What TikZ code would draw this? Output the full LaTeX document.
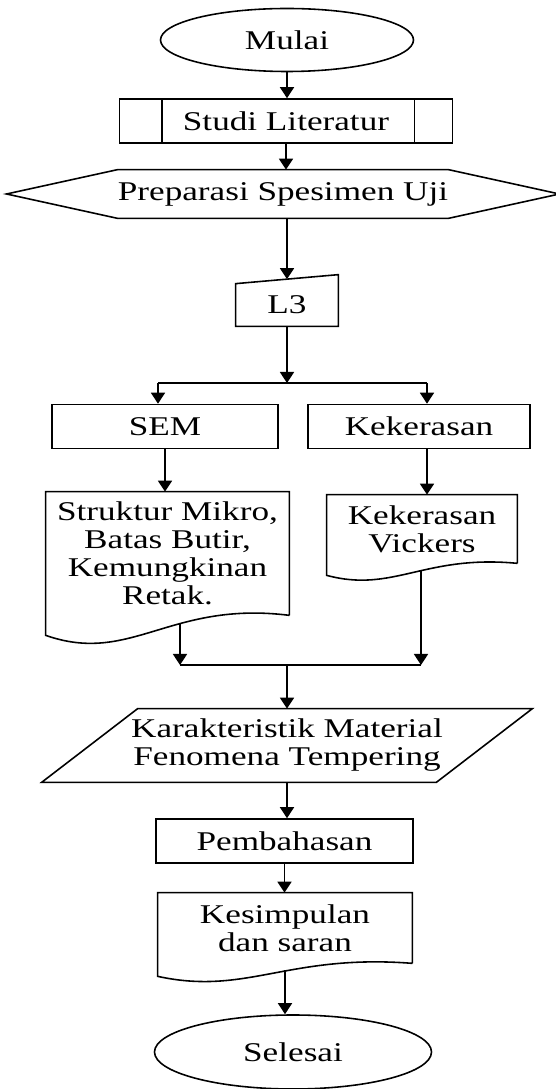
\documentclass[tikz,border=0pt]{standalone}
\usepackage{fontspec}
\setmainfont{Liberation Serif}[FakeStretch=1.3]
\usetikzlibrary{arrows.meta,calc,shapes.geometric}

% document symbol round node #1, left end lowered by #2
\newcommand{\docwave}[2]{%
  \draw[shapeline] (#1.south east) -- (#1.north east) -- (#1.north west)
    -- ([yshift=-#2]#1.south west)
    .. controls ($(#1.south west)!0.35!(#1.south east)+(0,-2.5*#2)$)
            and ($(#1.south west)!0.51!(#1.south east)+(0,0.75*#2)$)
    .. (#1.south east);}

\begin{document}
\begin{tikzpicture}[
  font=\fontsize{15.4pt}{15.9pt}\selectfont,
  shapeline/.style={line width=0.9pt},
  link/.style={line width=1pt},
  arrow/.style={line width=1pt, -{Triangle[length=0.22cm,width=0.28cm]}},
  term/.style={ellipse, draw, line width=0.9pt, inner sep=0pt},
  box/.style={draw, line width=0.9pt, inner sep=0pt, minimum height=0.88cm},
  txt/.style={inner sep=0pt, align=center},
]
  \useasboundingbox (0,0) rectangle (11.1,21.78);

  % --- Top column ---
  \node[term, minimum width=5.06cm, minimum height=1.26cm] (mulai) at (5.74,20.98) {Mulai};
  \node[box, minimum width=6.66cm] (lit) at (5.72,19.36) {Studi Literatur};
  \draw[shapeline] ([xshift=0.86cm]lit.north west) -- ([xshift=0.86cm]lit.south west);
  \draw[shapeline] ([xshift=-0.78cm]lit.north east) -- ([xshift=-0.78cm]lit.south east);

  \node[txt, minimum width=6.44cm, minimum height=0.96cm] (prep) at (5.66,17.90) {Preparasi Spesimen Uji};
  \draw[shapeline] (prep.north west) -- (prep.north east) -- ([xshift=2.22cm]prep.east)
    -- (prep.south east) -- (prep.south west) -- ([xshift=-2.22cm]prep.west) -- cycle;

  \node[txt, minimum width=2.04cm, minimum height=0.84cm] (l3) at (5.74,15.68) {L3};
  \draw[shapeline] (l3.south west) -- (l3.north west) -- ([yshift=0.18cm]l3.north east)
    -- (l3.south east) -- cycle;

  \draw[arrow] (mulai.south) -- (mulai.south |- lit.north);
  \draw[arrow] (lit.south) -- (lit.south |- prep.north);
  \draw[arrow] (prep.south -| l3) -- ([yshift=0.09cm]l3.north);

  % --- Two branches ---
  \coordinate (bl) at (3.16,14.12);
  \coordinate (br) at (8.54,14.12);
  \draw[arrow] (l3.south) -- (l3.south |- bl);
  \draw[link] (bl) -- (br);

  \node[box, minimum width=4.52cm] (sem) at (3.30,13.25) {SEM};
  \node[box, minimum width=4.44cm] (kek) at (8.38,13.25) {Kekerasan};
  \draw[arrow] (bl) -- (bl |- sem.north);
  \draw[arrow] (br) -- (br |- kek.north);

  \node[txt, minimum width=4.86cm, minimum height=2.46cm] (semd) at (3.35,10.71)
    {Struktur Mikro,\\Batas Butir,\\Kemungkinan\\Retak.};
  \docwave{semd}{0.4cm}
  \node[txt, minimum width=3.80cm, minimum height=1.36cm] (kekd) at (8.44,11.20)
    {Kekerasan\\Vickers};
  \docwave{kekd}{0.24cm}

  \draw[arrow] (sem.south) -- (sem.south |- semd.north);
  \draw[arrow] (br |- kek.south) -- (br |- kekd.north);

  % --- Join ---
  \coordinate (jl) at (3.60,8.48);
  \coordinate (jr) at (8.42,8.48);
  \draw[arrow] ([yshift=-0.16cm]semd.south -| jl) -- (jl);
  \draw[arrow] ([yshift=-0.14cm]kekd.south -| jr) -- (jr);
  \draw[link] (jl) -- (jr);

  \node[txt, minimum width=7.88cm, minimum height=1.46cm] (karak) at (5.74,6.87)
    {Karakteristik Material\\Fenomena Tempering};
  \draw[shapeline] ([xshift=0.96cm]karak.north west) -- ([xshift=0.96cm]karak.north east)
    -- ([xshift=-0.96cm]karak.south east) -- ([xshift=-0.96cm]karak.south west) -- cycle;
  \draw[arrow] (karak.north |- jl) -- (karak.north);

  % --- Bottom column ---
  \node[box, minimum width=5.14cm] (pemb) at (5.69,4.96) {Pembahasan};
  \node[txt, minimum width=5.08cm, minimum height=1.40cm] (kesd) at (5.70,3.22)
    {Kesimpulan\\dan saran};
  \docwave{kesd}{0.26cm}
  \node[term, minimum width=5.54cm, minimum height=1.48cm] (selesai) at (5.86,0.74) {Selesai};

  \draw[arrow] (karak.south) -- (karak.south |- pemb.north);
  \draw[arrow] (pemb.south) -- (pemb.south |- kesd.north);
  \draw[arrow] ([yshift=-0.14cm]kesd.south) -- (kesd.south |- selesai.north);
\end{tikzpicture}
\end{document}
